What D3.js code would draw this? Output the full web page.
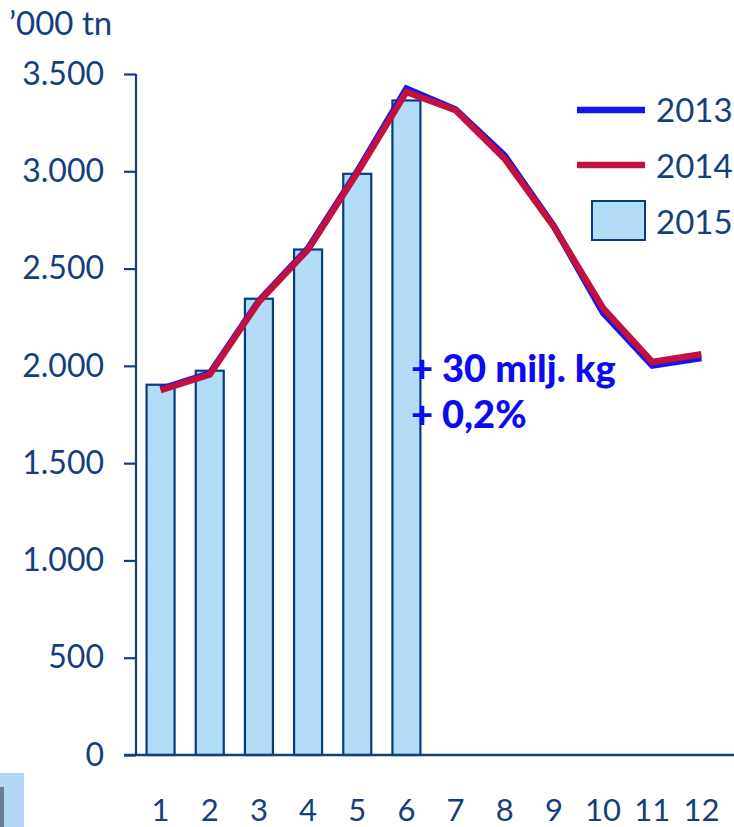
<!DOCTYPE html>
<html><head><meta charset="utf-8">
<script src="https://cdn.jsdelivr.net/npm/d3@7"></script>
<style>body{margin:0;background:#fff;}svg{display:block;}</style>
</head><body>
<svg id="c" width="734" height="827"></svg>
<script>
const months = [1,2,3,4,5,6,7,8,9,10,11,12];
const v2013 = [1880,1962,2335,2605,3000,3425,3318,3080,2718,2272,2002,2040];
const v2014 = [1875,1955,2330,2598,2992,3408,3314,3064,2714,2297,2020,2060];
const v2015 = [1903,1975,2345,2598,2987,3364];
const yTicks = [0,500,1000,1500,2000,2500,3000,3500];
const yTickLabels = ["0","500","1.000","1.500","2.000","2.500","3.000","3.500"];
const legendLabels = ["2013","2014","2015"];
const unitLabel = "’000 tn";
const noteLines = ["+ 30 milj. kg","+ 0,2%"];

const navy = "#153E7E", barFill = "#B3DCF7", barStroke = "#073C80";
const red = "#C2103F", blue = "#1414F0";
const font = "Lato, 'Open Sans', sans-serif";

const svg = d3.select("#c");
const x = d3.scaleBand().domain(months).range([136, 726]);
const y = d3.scaleLinear().domain([0,3500]).range([755, 74]);
const bw = 28;

// bars
svg.append("g").selectAll("rect").data(v2015).join("rect")
  .attr("x",(d,i)=>x(months[i])+x.bandwidth()/2-bw/2)
  .attr("y",d=>y(d)).attr("width",bw).attr("height",d=>y(0)-y(d))
  .attr("fill",barFill).attr("stroke",barStroke).attr("stroke-width",2.2);

// y axis
const yAxis = d3.axisLeft(y).tickValues(yTicks).tickSize(12)
  .tickFormat((d,i)=>yTickLabels[i]).tickPadding(20);
const ga = svg.append("g").attr("transform","translate(136,0)").call(yAxis);
ga.select(".domain").attr("d","M0,74V755").attr("stroke",navy).attr("stroke-width",2.2);
ga.selectAll(".tick line").attr("stroke",navy).attr("stroke-width",2.2);
ga.selectAll(".tick text").attr("fill",navy).attr("font-size",32).attr("font-family",font);

// x axis
const xAxis = d3.axisBottom(x).tickSize(0).tickPadding(44);
const gx = svg.append("g").attr("transform","translate(0,755)").call(xAxis);
gx.select(".domain").attr("d","M124,0H734").attr("stroke",navy).attr("stroke-width",2.4);
gx.selectAll(".tick text").attr("fill",navy).attr("font-size",31).attr("font-family",font);

// lines
const line = d3.line().x((d,i)=>x(months[i])+x.bandwidth()/2).y(d=>y(d));
svg.append("path").datum(v2013).attr("d",line).attr("fill","none")
  .attr("stroke",blue).attr("stroke-width",6.5).attr("stroke-linejoin","miter");
svg.append("path").datum(v2014).attr("d",line).attr("fill","none")
  .attr("stroke",red).attr("stroke-width",6.5).attr("stroke-linejoin","miter");

// unit label
svg.append("text").attr("x",9).attr("y",35).text(unitLabel)
  .attr("fill",navy).attr("font-size",33).attr("font-family",font);

// legend
const lg = svg.append("g");
lg.append("line").attr("x1",577).attr("x2",645).attr("y1",110).attr("y2",110).attr("stroke",blue).attr("stroke-width",6.5);
lg.append("line").attr("x1",577).attr("x2",645).attr("y1",165).attr("y2",165).attr("stroke",red).attr("stroke-width",6.5);
lg.append("rect").attr("x",592).attr("y",201).attr("width",53).attr("height",39)
  .attr("fill",barFill).attr("stroke",barStroke).attr("stroke-width",2);
legendLabels.forEach((t,i)=>{
  lg.append("text").attr("x",656).attr("y",122+i*56).text(t)
    .attr("fill",navy).attr("font-size",33).attr("font-family",font);
});

// annotation
noteLines.forEach((t,i)=>{
  svg.append("text").attr("x",411).attr("y",382+i*46).text(t)
    .attr("fill","#0A0AF5").attr("font-size",38).attr("font-weight","900").attr("font-family",font);
});

// bottom-left fragment
svg.append("rect").attr("x",0).attr("y",773).attr("width",24).attr("height",54).attr("fill","#B3D6F7");
svg.append("rect").attr("x",0).attr("y",787).attr("width",4).attr("height",40).attr("fill","#6B7C99");
</script>
</body></html>
